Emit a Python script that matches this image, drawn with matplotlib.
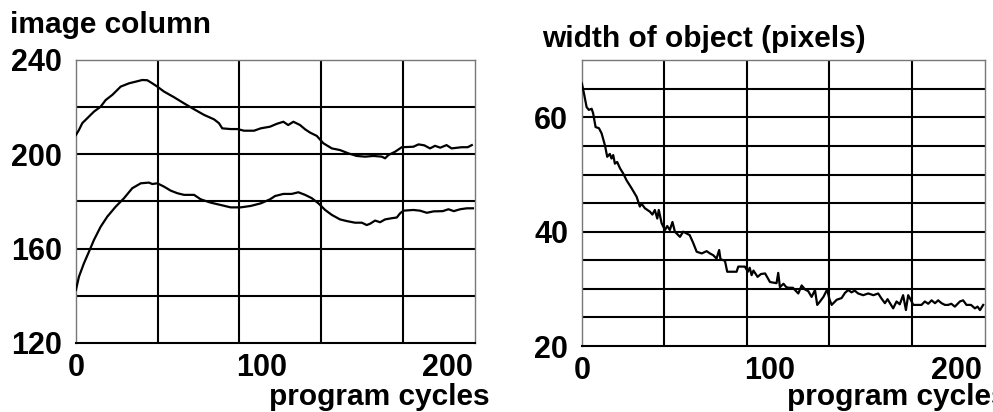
import numpy as np
import matplotlib.pyplot as plt

plt.rcParams['font.family'] = ['Liberation Sans', 'DejaVu Sans']
plt.rcParams['font.weight'] = 'bold'

# left panel: image column of the two edges vs program cycle
cyc_upper = [0, 1.6, 3.4, 6.1, 9.7, 13.3, 16, 19.6, 24.1, 28.6,
             32.2, 35.7, 38.4, 41.1, 43.8, 47.4, 52.8, 58.2, 63.6, 69,
             74.4, 77, 78.8, 83.3, 87, 90.5, 95.9, 99.5, 104.5, 108.1,
             111.7, 114.3, 117.1, 120.7, 123.4, 126.1, 129.7, 133.2, 137.8, 142.2,
             146.7, 151.2, 155.7, 160.2, 164.7, 166.5, 168.3, 171.9, 175.5, 181.7,
             184.5, 187.6, 190.7, 193.4, 196.2, 199.6, 202.3, 207.7, 211, 213.2]
col_upper = [208.2, 210.3, 213.2, 215.3, 218.1, 220.2, 223, 225.2, 228.7, 230.1,
             230.8, 231.5, 231.4, 230.1, 228.7, 226.6, 224.2, 221.6, 219.1, 216.7,
             214.8, 213.2, 211, 210.7, 210.7, 210, 210, 211, 211.7, 212.9,
             213.8, 212.4, 213.8, 212.4, 210.6, 209.2, 207.8, 204.7, 202.5, 201.8,
             200.4, 199.3, 199, 199.3, 199, 198.3, 199.7, 201.1, 203, 203.2,
             204.2, 203.8, 202.5, 203.6, 202.8, 203.9, 202.5, 203, 203, 203.9]

cyc_lower = [0, 1.6, 4.3, 7, 9.7, 13.3, 16.9, 21.4, 25.9, 30.3,
             34.9, 39.3, 41.1, 43.8, 47.4, 51, 54.6, 58.2, 63.6, 67.2,
             72.6, 78, 83.3, 88.7, 94.1, 99.5, 104.5, 107.2, 111.7, 116.2,
             119.8, 123.4, 127, 130.6, 134.2, 137.8, 142.2, 145.8, 150.3, 154,
             156.6, 158.5, 161.1, 163.8, 166.5, 170.1, 172.8, 174.6, 176.4, 181.7,
             185.3, 189, 192.6, 197.6, 200.6, 203.5, 206.9, 210.5, 213.8]
col_lower = [142.5, 148.1, 153.8, 158.7, 163.7, 169.3, 173.6, 177.8, 181.4, 185.6,
             187.7, 188, 187.4, 187.7, 186.3, 184.6, 183.5, 182.8, 182.8, 180.9,
             179.5, 178.5, 177.5, 177.5, 178.1, 179.2, 180.9, 182.3, 183.2, 183.2,
             183.9, 182.8, 181.4, 179.2, 176.4, 174.3, 172.4, 171.7, 171, 171,
             170, 170.6, 171.9, 171.2, 172.4, 172.9, 173.2, 175, 176.1, 176.4,
             176.1, 175.2, 175.8, 175.9, 176.7, 175.9, 176.7, 177.1, 177.1]

# right panel: object width vs program cycle
cyc_width = [0, 1.1, 2.5, 3.7, 5.2, 6, 7.3, 9.1, 10.5, 12.3,
             13.5, 14.9, 15.8, 16.7, 17.6, 18.8, 20.3, 22, 23.8, 26.5,
             29.2, 30.9, 31.8, 33.6, 36.3, 37.6, 38.9, 40.2, 41, 42.5,
             44.3, 45.5, 46.9, 48.3, 49.6, 52.3, 54, 55.8, 57.5, 59.4,
             61.2, 63.9, 66.5, 68.3, 70, 71.8, 73.2, 73.9, 76.3, 77.5,
             82.5, 83.4, 86.9, 88.5, 89.5, 90.5, 91.5, 93.7, 95.5, 97.7,
             100.3, 103.8, 104.7, 105.6, 107.5, 109, 110.3, 112.5, 115.4, 117.2,
             119, 120.7, 122.5, 124.3, 125.5, 127, 128.8, 130.8, 132, 133.2,
             135.9, 138.5, 140.3, 142, 143.8, 145.5, 147.3, 150, 152.7, 155.5,
             158, 159.8, 161.6, 163, 164.3, 166, 167.8, 169.5, 171.3, 172.8,
             174, 175.2, 176.7, 181.1, 182.9, 184.7, 186.5, 188.3, 190, 191.8,
             193.6, 195.3, 197, 198.9, 201.6, 203.3, 205.1, 207.5, 209.6, 211,
             212.3, 214]
width_px = [65.9, 64.2, 61.8, 61.3, 61.5, 60.7, 58.3, 58.1, 57.2, 55.1,
            53.1, 53.6, 52.8, 53.4, 51.9, 52.2, 51.1, 50.2, 49, 47.6,
            46.1, 44.4, 44.9, 44.1, 43.5, 43, 43.8, 42.3, 43.8, 41.5,
            40.3, 41, 40.3, 41.7, 40, 39.1, 40, 39.7, 39.4, 38,
            36.5, 36.2, 36.6, 36.2, 35.9, 35.3, 36.8, 35.2, 34.9, 33,
            33, 33.9, 33.9, 33, 33.7, 32.4, 33.2, 32.1, 32.6, 32.7,
            31.2, 31, 32.8, 30.3, 30.9, 30.3, 30.2, 30.2, 29.2, 30.6,
            29.9, 29.6, 28.6, 29.8, 27.2, 27.8, 28.6, 29.9, 28.2, 27.2,
            28.1, 28.4, 29.3, 29.8, 29.4, 29.7, 29.2, 28.9, 29.2, 28.9,
            29.2, 28.3, 27.5, 28.2, 27.5, 26.6, 27.8, 27.3, 28.9, 26.3,
            28.9, 28.2, 27.2, 27.2, 27.8, 27.4, 28, 27.5, 28, 27.5,
            27.2, 27.2, 27.4, 26.9, 27.8, 28, 27.2, 27.2, 26.6, 26.9,
            26.3, 27.2]

x_ticks = [0, 100, 200]
x_grid = [44, 88, 132, 176]
left_yticks = [120, 160, 200, 240]
left_ygrid = [140, 160, 180, 200, 220]
right_yticks = [20, 40, 60]
right_ygrid = [25, 30, 35, 40, 45, 50, 55, 60, 65]

fig = plt.figure(figsize=(9.93, 4.12), dpi=100)
ax1 = fig.add_axes([0.0765, 0.1675, 0.402, 0.687])
ax2 = fig.add_axes([0.586, 0.160, 0.406, 0.694])


def style(ax, ylim, yticks, ygrid):
    ax.set_xlim(0, 215)
    ax.set_ylim(*ylim)
    for gx in x_grid:
        ax.axvline(gx, color='black', lw=1.5, zorder=1)
    for gy in ygrid:
        ax.axhline(gy, color='black', lw=1.5, zorder=1)
    ax.set_xticks(x_ticks)
    ax.set_yticks(yticks)
    ax.tick_params(axis='both', length=0, labelsize=22)
    ax.tick_params(axis='x', pad=7)
    ax.tick_params(axis='y', pad=10)
    for s in ['top', 'right', 'left']:
        ax.spines[s].set_color('#777777')
        ax.spines[s].set_linewidth(1)
    ax.spines['bottom'].set_color('black')
    ax.spines['bottom'].set_linewidth(1.5)


style(ax1, (120, 240), left_yticks, left_ygrid)
ax1.plot(cyc_upper, col_upper, color='black', lw=1.6, zorder=3)
ax1.plot(cyc_lower, col_lower, color='black', lw=1.6, zorder=3)

style(ax2, (20, 70), right_yticks, right_ygrid)
ax2.plot(cyc_width, width_px, color='black', lw=1.6, zorder=3)

fig.text(0.010, 0.920, 'image column', fontsize=21.5, va='baseline', ha='left')
fig.text(0.546, 0.886, 'width of object (pixels)', fontsize=21.5, va='baseline', ha='left')
fig.text(0.4935, 0.017, 'program cycles', fontsize=21.5, va='baseline', ha='right')
fig.text(0.7925, 0.017, 'program cycles', fontsize=21.5, va='baseline', ha='left')

fig.savefig('out.png', dpi=100)
